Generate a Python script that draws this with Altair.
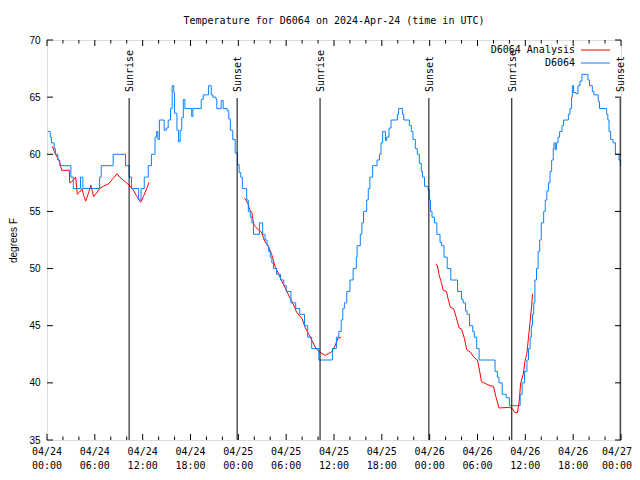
import altair as alt
import pandas as pd

# ---- data (hours since 2024-04-24 00:00 UTC, degrees F) ----
blue_hours = [0.1, 0.4, 0.55, 0.9, 1.05, 1.35, 1.6, 3.0, 3.3, 4.2, 4.5, 6.6, 6.8, 8.3, 9.85, 10.3, 10.6,
              11.5, 11.8, 12.2, 12.7, 13.1, 13.55, 13.75, 13.9, 14.1, 14.7, 14.95, 15.2, 15.5, 15.7, 15.9,
              16.0, 16.3, 16.5, 16.7, 16.9, 17.1, 17.3, 18.15, 18.3, 19.35, 19.6, 20.25, 20.6, 20.8, 21.2,
              21.3, 21.85, 22.1, 22.6, 22.8, 23.0, 23.3, 23.6, 23.9, 24.1, 24.3, 24.5, 25.05, 25.25, 25.5,
              25.7, 25.9, 26.65, 27.05, 27.35, 27.6, 27.8, 28.0, 28.2, 28.4, 28.8, 29.3, 29.7, 30.0, 30.6,
              31.2, 31.7, 32.3, 32.7, 33.2, 34.1, 35.8, 36.3, 36.6, 36.9, 37.1, 37.3, 37.6, 38.0, 38.4,
              38.8, 38.9, 39.3, 39.5, 39.7, 40.1, 40.3, 40.5, 40.85, 41.4, 41.7, 41.9, 42.1, 42.45, 42.6,
              42.9, 43.15, 43.95, 44.1, 44.6, 44.75, 45.45, 45.7, 45.9, 46.2, 46.45, 46.7, 46.95, 47.1,
              47.35, 47.8, 47.95, 48.1, 48.3, 48.6, 48.9, 49.3, 49.5, 49.8, 50.2, 50.65, 51.5, 52.0, 52.2,
              52.5, 52.7, 53.0, 53.4, 53.6, 53.9, 54.2, 56.2, 56.5, 56.7, 57.1, 57.6, 58.0, 59.35, 59.6,
              59.9, 60.2, 60.4, 60.6, 60.75, 60.9, 61.05, 61.2, 61.4, 61.6, 61.8, 62.0, 62.3, 62.5, 62.7,
              62.9, 63.1, 63.3, 63.5, 63.6, 63.75, 63.9, 64.1, 64.3, 64.6, 64.8, 65.4, 65.6, 65.8, 65.9,
              66.05, 66.35, 66.6, 66.85, 67.1, 67.85, 68.05, 68.4, 68.6, 69.15, 69.3, 70.2, 70.35, 70.5,
              70.7, 71.0, 71.3, 71.75, 71.95]
blue_temps = [62, 61.5, 61, 60.5, 60, 59.5, 59, 58, 57, 58, 57, 58, 59, 60, 59, 58, 57,
              56, 57, 58, 59, 60, 61.5, 62, 61.3, 63, 62.1, 62.3, 63, 64, 66, 65.4,
              63.6, 62.1, 61.1, 62.1, 63.2, 64.8, 64, 63.3, 64, 64.8, 65.2, 66, 65.2, 65, 64.8,
              64, 64.7, 64, 63.8, 63.1, 62.1, 61.3, 60.1, 59.1, 58.4, 58, 57, 56, 55, 54.5,
              54, 53, 54, 53, 52.5, 52, 51.5, 51, 50.5, 50, 49.5, 49, 48.5, 48, 47,
              46.5, 46, 45, 44, 43, 42, 43, 44, 44.5, 45.5, 46.5, 47, 48, 49, 50,
              51, 52, 53, 54, 55, 56, 57, 58, 59, 59.5, 60, 61, 62, 61.2, 61.5,
              62.3, 63, 63.5, 64, 63.5, 63, 62.5, 62, 61.3, 60.5, 60, 59.2, 58.5, 58,
              57.2, 56.9, 56, 55, 54.5, 54, 53, 52.3, 52, 51, 50, 49, 48, 47.3, 47,
              46.3, 46, 45, 44.5, 44, 43, 42, 41, 40.5, 40, 39, 38.7, 38, 39, 40,
              41, 42, 43, 44, 45, 46, 47, 49, 50, 51.5, 52.5, 54, 55, 56, 56.8,
              57.5, 58.5, 59.5, 60.5, 61, 60.4, 61, 61.5, 62, 62.5, 63, 63.5, 64, 65, 66,
              65.4, 65.3, 66, 66.4, 67, 66.5, 66, 65.5, 65.2, 64.6, 64, 63.5, 63, 62,
              61.3, 61, 60, 59.5, 59]

red_hours = [0.67, 1.0, 1.4, 1.6, 1.84, 2.8, 2.85, 3.1, 3.35, 3.6, 3.8, 4.1, 4.4, 4.6, 4.85, 5.2, 5.5,
             5.85, 6.3, 6.6, 7.05, 7.7, 8.3, 8.8, 9.1, 9.8, 10.3, 10.8, 11.2, 11.75, 12.1, 12.5, 12.8,
             24.75, 24.95, 25.25, 25.4, 25.7, 25.8, 25.97, 26.5, 26.9, 27.3, 27.8, 28.2, 28.6, 29.0,
             29.45, 29.9, 30.5, 30.95, 31.3, 32.0, 32.35, 32.8, 33.2, 33.75, 34.2, 34.9, 35.3, 35.7,
             36.1, 36.5, 36.9,
             48.75, 48.95, 49.2, 49.5, 49.7, 50.1, 50.35, 50.6, 51.0, 51.3, 51.7, 52.0, 52.35, 52.65,
             53.1, 53.6, 54.0, 54.2, 54.5, 54.8, 55.1, 55.6, 56.0, 56.3, 56.7, 57.8, 58.3, 58.7, 59.0,
             59.25, 59.4, 59.75, 59.95, 60.2, 60.4, 60.6, 60.8, 60.9]
red_temps = [60.7, 60.1, 59.6, 59.3, 58.6, 58.6, 57.5, 57.6, 57.8, 58.0, 56.5, 56.7, 57.0, 56.4, 55.9,
             56.6, 57.3, 56.3, 56.7, 57.0, 57.2, 57.4, 57.9, 58.3, 58.0, 57.6, 57.3, 56.9, 56.4, 55.8,
             56.3, 57.0, 57.55,
             56.15, 56.0, 55.6, 55.2, 54.9, 54.4, 53.8, 53.4, 53.2, 52.4, 51.9, 51.2, 50.2, 49.6,
             48.9, 48.3, 47.4, 46.8, 46.2, 45.6, 44.9, 44.3, 43.75, 43.0, 42.7, 42.4, 42.55, 42.7,
             43.2, 43.9, 44.0,
             50.4, 50.3, 49.4, 48.7, 48.1, 48.0, 47.25, 46.6, 46.5, 45.8, 44.8, 44.7, 43.9, 42.9,
             42.7, 42.2, 42.0, 41.3, 40.1, 40.0, 39.9, 39.75, 39.7, 38.8, 37.8, 37.85, 37.8, 37.4, 37.4,
             38.5, 39.9, 40.8, 41.85, 42.6, 44.0, 45.35, 46.8, 47.8]
red_segment = [1] * 33 + [2] * 31 + [3] * 38

event_hours = [10.3, 23.85, 34.25, 47.9, 58.3, 71.9]
event_labels = ["Sunrise", "Sunset", "Sunrise", "Sunset", "Sunrise", "Sunset"]

series_names = ["D6064 Analysis", "D6064"]
series_colors = ["#ff0000", "#0a80ff"]

x_major = list(range(0, 73, 6))
x_tick_labels = ["04/24\n00:00", "04/24\n06:00", "04/24\n12:00", "04/24\n18:00",
                 "04/25\n00:00", "04/25\n06:00", "04/25\n12:00", "04/25\n18:00",
                 "04/26\n00:00", "04/26\n06:00", "04/26\n12:00", "04/26\n18:00",
                 "04/27\n00:00"]
x_minor = [h for h in range(0, 73, 2) if h % 6 != 0]
y_ticks = list(range(35, 71, 5))

W, H = 574, 400
MONO = "DejaVu Sans Mono"
SANS = "Liberation Sans"

xs = alt.Scale(domain=[0, 72], nice=False, zero=False)
ys = alt.Scale(domain=[35, 70], nice=False, zero=False)

blue_df = pd.DataFrame({"h": blue_hours, "t": blue_temps})
red_df = pd.DataFrame({"h": red_hours, "t": red_temps, "seg": red_segment})
ev_df = pd.DataFrame({"h": event_hours, "label": event_labels})
xlab_df = pd.DataFrame({"h": x_major, "label": x_tick_labels})
xmaj_df = pd.DataFrame({"h": x_major})
xmin_df = pd.DataFrame({"h": x_minor})
yt_df = pd.DataFrame({"t": y_ticks})

y_axis = alt.Axis(values=y_ticks, labelFont=SANS, labelFontSize=10, labelColor="black",
                  labelPadding=7, ticks=False, domain=False, grid=False, title="degrees F",
                  titleFont=SANS, titleFontSize=10, titleFontWeight="normal", titleColor="black",
                  titleX=-34, titleY=H / 2, titleAngle=270, titleAlign="center",
                  titleBaseline="middle")

red = alt.Chart(red_df).mark_line(color=series_colors[0], strokeWidth=1, clip=True).encode(
    x=alt.X("h:Q", scale=xs, axis=None),
    y=alt.Y("t:Q", scale=ys, axis=y_axis),
    detail="seg:N",
)
blue = alt.Chart(blue_df).mark_line(color=series_colors[1], strokeWidth=1, interpolate="step-after",
                                   clip=True).encode(
    x=alt.X("h:Q", scale=xs),
    y=alt.Y("t:Q", scale=ys),
)

# x tick labels (two lines); the last one is kept inside the page
xlab_main = alt.Chart(xlab_df[xlab_df.h < 72]).mark_text(
    font=MONO, fontSize=10, align="center", baseline="top", lineBreak="\n", lineHeight=14,
    color="black").encode(x=alt.X("h:Q", scale=xs), y=alt.value(H + 7), text="label:N")
xlab_last = alt.Chart(xlab_df[xlab_df.h == 72]).mark_text(
    font=MONO, fontSize=10, align="right", baseline="top", lineBreak="\n", lineHeight=14,
    color="black", dx=11).encode(x=alt.X("h:Q", scale=xs), y=alt.value(H + 7), text="label:N")

ev_rule = alt.Chart(ev_df).mark_rule(color="black", strokeWidth=1).encode(
    x=alt.X("h:Q", scale=xs), y=alt.value(58), y2=alt.value(H))
ev_text = alt.Chart(ev_df).mark_text(font=MONO, fontSize=10, angle=270, align="left",
                                     baseline="middle", color="black", dy=1).encode(
    x=alt.X("h:Q", scale=xs), y=alt.value(52), text="label:N")

def xticks(df, length):
    b = alt.Chart(df).mark_rule(color="black", strokeWidth=1).encode(
        x=alt.X("h:Q", scale=xs), y=alt.value(H), y2=alt.value(H - length))
    t = alt.Chart(df).mark_rule(color="black", strokeWidth=1).encode(
        x=alt.X("h:Q", scale=xs), y=alt.value(0), y2=alt.value(length))
    return [b, t]

yl = alt.Chart(yt_df).mark_rule(color="black", strokeWidth=1).encode(
    y=alt.Y("t:Q", scale=ys), x=alt.value(0), x2=alt.value(6))
yr = alt.Chart(yt_df).mark_rule(color="black", strokeWidth=1).encode(
    y=alt.Y("t:Q", scale=ys), x=alt.value(W), x2=alt.value(W - 6))

legend_layers = []
for i, (name, col) in enumerate(zip(series_names, series_colors)):
    row_df = pd.DataFrame({"name": [name]})
    ypix = 10 + 13 * i
    legend_layers.append(
        alt.Chart(row_df).mark_text(font=MONO, fontSize=10, align="right", baseline="middle",
                                    color="black").encode(
            x=alt.value(528), y=alt.value(ypix), text="name:N"))
    legend_layers.append(
        alt.Chart(row_df).mark_rule(strokeWidth=1, color=col).encode(
            x=alt.value(534), x2=alt.value(563), y=alt.value(ypix)))

layers = [red, blue, ev_rule, ev_text, xlab_main, xlab_last] + xticks(xmaj_df, 6) \
    + xticks(xmin_df, 3.5) + [yl, yr] + legend_layers

chart = alt.layer(*layers).properties(
    width=W, height=H,
    padding={"left": 39, "top": 32, "right": 11, "bottom": 32},
    autosize=alt.AutoSizeParams(type="none"),
    title=alt.TitleParams("Temperature for D6064 on 2024-Apr-24 (time in UTC)", font=MONO,
                          fontSize=10, fontWeight="normal", color="black", anchor="middle",
                          frame="group", offset=9),
).configure_view(stroke="black", strokeWidth=1).configure(background="white")

chart.save("out.html", embed_options={"renderer": "svg", "actions": False})
